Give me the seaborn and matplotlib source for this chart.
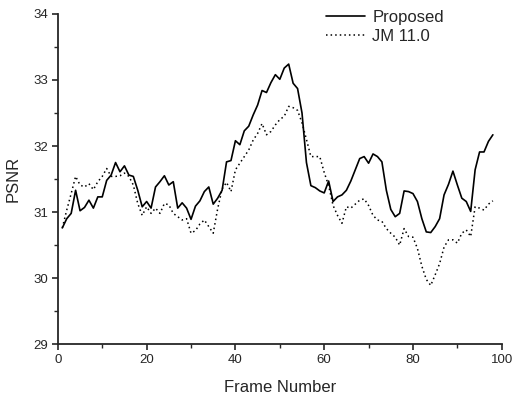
import numpy as np
import pandas as pd
import seaborn as sns
import matplotlib.pyplot as plt

# PSNR per frame
proposed = [
    30.76, 30.90, 30.98, 31.33, 31.02, 31.07, 31.18, 31.06, 31.23, 31.23,
    31.48, 31.56, 31.75, 31.61, 31.70, 31.56, 31.54, 31.33, 31.08, 31.16,
    31.06, 31.38, 31.46, 31.55, 31.41, 31.46, 31.06, 31.14, 31.06, 30.89,
    31.09, 31.17, 31.31, 31.38, 31.12, 31.21, 31.33, 31.76, 31.78, 32.08,
    32.02, 32.23, 32.30, 32.47, 32.62, 32.84, 32.81, 32.96, 33.08, 33.01,
    33.18, 33.24, 32.95, 32.87, 32.50, 31.75, 31.40, 31.37, 31.32, 31.29,
    31.47, 31.16, 31.23, 31.26, 31.33, 31.47, 31.64, 31.81, 31.84, 31.74,
    31.88, 31.84, 31.76, 31.33, 31.04, 30.93, 30.98, 31.32, 31.31, 31.28,
    31.16, 30.90, 30.70, 30.69, 30.78, 30.90, 31.26, 31.42, 31.62, 31.41,
    31.21, 31.16, 31.01, 31.64, 31.91, 31.91, 32.07, 32.17,
]
jm = [
    30.76, 31.03, 31.28, 31.54, 31.41, 31.38, 31.43, 31.34, 31.46, 31.54,
    31.66, 31.54, 31.54, 31.55, 31.59, 31.54, 31.41, 31.13, 30.95, 31.08,
    30.98, 31.06, 30.98, 31.13, 31.11, 30.98, 30.93, 30.88, 30.90, 30.68,
    30.72, 30.82, 30.88, 30.78, 30.68, 31.05, 31.35, 31.45, 31.31, 31.64,
    31.74, 31.84, 31.94, 32.09, 32.19, 32.34, 32.17, 32.22, 32.32, 32.40,
    32.45, 32.60, 32.58, 32.54, 32.35, 32.10, 31.84, 31.84, 31.84, 31.60,
    31.40, 31.10, 30.95, 30.83, 31.08, 31.06, 31.12, 31.18, 31.20, 31.10,
    30.95, 30.88, 30.86, 30.75, 30.68, 30.62, 30.50, 30.75, 30.63, 30.62,
    30.45, 30.18, 29.98, 29.89, 30.05, 30.22, 30.47, 30.58, 30.58, 30.53,
    30.68, 30.73, 30.63, 31.08, 31.06, 31.03, 31.12, 31.17,
]
frames = np.arange(1, len(proposed) + 1)

sns.set_style("ticks")
plt.rcParams["font.family"] = ["Liberation Sans", "DejaVu Sans"]

fig = plt.figure(figsize=(5.12, 3.97), dpi=100)
ax = fig.add_axes([0.113, 0.133, 0.867, 0.832])

sns.lineplot(x=frames, y=proposed, ax=ax, color="black", lw=1.2, label="Proposed")
sns.lineplot(x=frames, y=jm, ax=ax, color="black", lw=1.1,
             linestyle=(0, (1, 2)), label="JM 11.0")

ax.set_xlim(0, 100)
ax.set_ylim(29, 34)
ax.set_xticks(np.arange(0, 101, 20))
ax.set_xticks(np.arange(10, 100, 20), minor=True)
ax.set_yticks(np.arange(29, 35, 1))
ax.set_yticks(np.arange(29.5, 34, 1), minor=True)
ax.tick_params(which="major", direction="out", length=4, width=1.2,
               labelsize=9.5, pad=3)
ax.tick_params(which="minor", direction="out", length=3, width=1)
ax.set_xlabel("Frame Number", fontsize=12, labelpad=10)
ax.set_ylabel("PSNR", fontsize=12, labelpad=9)
sns.despine(ax=ax)
for s in ["left", "bottom"]:
    ax.spines[s].set_linewidth(1.3)

ax.legend(loc="upper left", frameon=False, fontsize=12, handlelength=2.35,
          handletextpad=0.42, labelspacing=0.26, borderpad=0.0,
          borderaxespad=0.0, bbox_to_anchor=(0.604, 1.012))

fig.savefig("out.png", dpi=100)
